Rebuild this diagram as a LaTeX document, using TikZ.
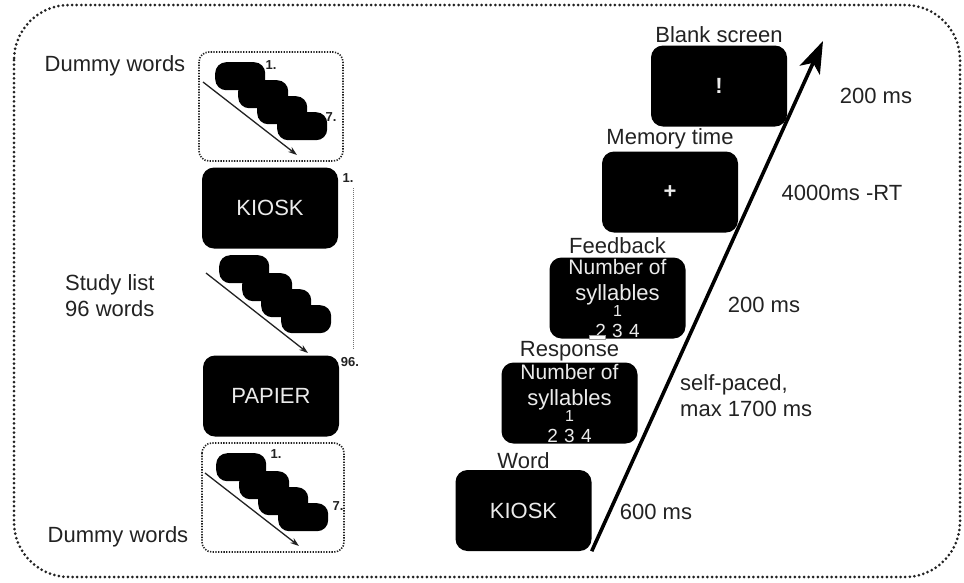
\documentclass[tikz,border=0pt]{standalone}
\usepackage{fontspec}
\setmainfont{Liberation Sans}
\usetikzlibrary{positioning,arrows.meta}
\definecolor{ink}{HTML}{222222}

% four overlapping word cards, stepping down to the right
\newcommand{\cardstack}[3]{%
  \foreach \k/\dx/\dy in {1/0/0,2/23/18,3/42/34,4/62/50}
    \node[card] (#1\k) at (#2+\dx,#3+\dy) {};
}
\newcommand{\syllables}{\fontsize{21}{25}\selectfont\lineskiplimit=-20pt\relax Number of\\syllables\\[-10pt]{\fontsize{16}{16}\selectfont 1}\\[-5pt]{\fontsize{19}{19}\selectfont 2\,\,3\,\,4}}

\begin{document}
\begin{tikzpicture}[%
            x=1pt, y=-1pt,
            >={Stealth[length=9pt,width=6pt]},
            every node/.style={text=ink},
            screen/.style={fill=black, rounded corners=12pt, minimum width=136pt,
              minimum height=81pt, inner sep=0pt, text=white!92!black,
              font=\fontsize{22}{26}\selectfont},
            lbl/.style={font=\fontsize{22}{26}\selectfont, inner sep=1pt},
            num/.style={font=\bfseries\fontsize{13}{15}\selectfont, inner sep=0pt},
            card/.style={anchor=north west, fill=black, rounded corners=11pt,
              minimum width=50pt, minimum height=28pt, inner sep=0pt},
            dummy/.style={draw=ink, line width=1.6pt, dash pattern=on 1.3pt off 1.4pt,
              rounded corners=10pt},
            seq/.style={->, draw=ink, line width=1.3pt},
            timeline/.style={-{Stealth[length=32pt,width=22pt,inset=8pt]}, line width=3.6pt},
            frame/.style={draw=ink, line width=3pt, dash pattern=on 0pt off 4.6pt,
              line cap=round, rounded corners=55pt}
            ]
            \useasboundingbox (0,0) rectangle (964,582);
            \draw[frame] (14,5) rectangle (960,577);

            % left: study list
            \node[lbl] (dw1) at (115,66) {Dummy words};
            \draw[dummy] (199,52) rectangle (343,161);
            \cardstack{a}{215}{62}
            \node[num] (n1a) at (271,65) {1.};
            \node[num] (n7a) at (331,117) {7.};
            \coordinate (aS) at (203,82);
            \coordinate (aE) at (297,155);
            \draw[seq] (aS) -- (aE);

            \node[screen] (kiosk) at (270,208) {KIOSK};
            \node[num] (n1b) at (348,178) {1.};
            \cardstack{b}{219}{255}
            \coordinate (bS) at (206,273);
            \coordinate (bE) at (308,353);
            \draw[seq] (bS) -- (bE);
            \node[lbl, align=left, anchor=west] (study) at (64,296) {Study list\\96 words};
            \node[screen] (papier) at (271,396) {PAPIER};
            \node[num] (n96) at (350,362) {96.};
            \coordinate (lsTop) at (353,188);
            \coordinate (lsBot) at (353,350);
            \draw[black!55, line width=1pt, dash pattern=on 1pt off 1pt] (lsTop) -- (lsBot);

            \draw[dummy] (202,443) rectangle (344,552);
            \cardstack{c}{216}{453}
            \node[num] (n1c) at (276,454) {1.};
            \node[num] (n7c) at (338,506) {7.};
            \coordinate (cS) at (205,473);
            \coordinate (cE) at (299,546);
            \draw[seq] (cS) -- (cE);
            \node[lbl] (dw2) at (118,537) {Dummy words};

            % right: one trial
            \node[screen] (word) at (523.5,510.5) {KIOSK};
            \node[lbl, above=0pt of word] (wordlbl) {Word};
            \node[screen, align=center] (resp) at (569.5,403) {\syllables};
            \node[lbl, above=0pt of resp] (resplbl) {Response};
            \node[screen, align=center] (feed) at (617.5,298) {\syllables};
            \node[lbl, above=2pt of feed] (feedlbl) {Feedback};
            \node[fill=white, draw=black!40, minimum width=16pt, minimum height=4pt,
              inner sep=0pt] (sel) at (597,337) {};
            \node[screen, font=\bfseries\fontsize{22}{26}\selectfont] (mem) at (670,192) {+};
            \node[lbl, above=1.5pt of mem] (memlbl) {Memory time};
            \node[screen, font=\bfseries\fontsize{22}{26}\selectfont] (blank) at (719,86) {!};
            \node[lbl, above=1pt of blank] (blanklbl) {Blank screen};

            \coordinate (tip) at (823,41);
            \draw[timeline] (word.south east) -- (tip);

            \node[lbl] (t1) at (656,512) {600 ms};
            \node[lbl, align=left, anchor=west] (t2) at (679,396) {self-paced,\\max 1700 ms};
            \node[lbl] (t3) at (764,305) {200 ms};
            \node[lbl] (t4) at (842,193) {4000ms -RT};
            \node[lbl] (t5) at (876,96) {200 ms};
        \end{tikzpicture}
\end{document}
